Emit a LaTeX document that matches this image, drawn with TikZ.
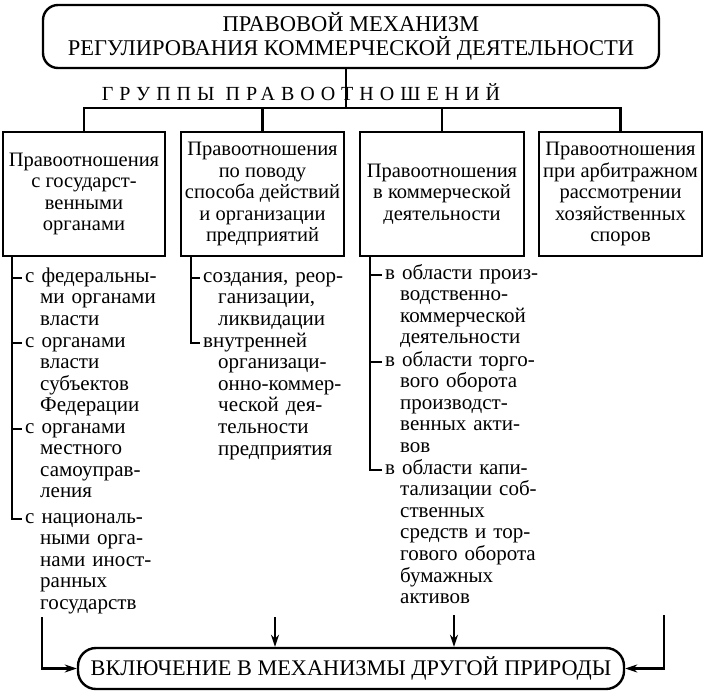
\documentclass[tikz,border=0pt]{standalone}
\usepackage{fontspec}
\setmainfont{Liberation Serif}
\usetikzlibrary{arrows.meta}
\newcommand{\boxtext}{\fontsize{20.5}{21.5}\selectfont}
\newcommand{\listtext}{\fontsize{21}{21.6}\selectfont}
\newcommand{\captext}{\fontsize{22.5}{24}\selectfont}
\newcommand{\hng}{\noindent\hangindent=15pt\hangafter=1\relax}
\newcommand{\hngend}{\par}
\begin{document}
\begin{tikzpicture}[x=1pt,y=-1pt,
    ln/.style={line width=2.4pt},
    arr/.style={line width=2.4pt,-{Stealth[length=12pt,width=8pt]}},
    grpbox/.style={draw,line width=2.4pt,minimum height=124pt,align=center,inner sep=1pt,font=\boxtext},
    itm/.style={anchor=base west,inner xsep=3pt,inner ysep=0pt,text width=190pt,align=left,font=\listtext,
        execute at begin node=\hng,execute at end node=\hngend}]
    \useasboundingbox (0,0) rectangle (704,696);
    % title and groups
    \node[draw,ln,rounded corners=15pt,minimum width=616pt,minimum height=63pt,align=center,font=\captext]
        (top) at (351,36.5) {ПРАВОВОЙ МЕХАНИЗМ\\РЕГУЛИРОВАНИЯ КОММЕРЧЕСКОЙ ДЕЯТЕЛЬНОСТИ};
    \node[font=\fontsize{20}{22}\selectfont\addfontfeature{LetterSpace=30}] (grp) at (301,92) {ГРУППЫ ПРАВООТНОШЕНИЙ};
    \node[grpbox,minimum width=162pt] (b1) at (84,194) {Правоотношения\\с государст-\\венными\\органами};
    \node[grpbox,minimum width=163pt] (b2) at (262.5,194) {Правоотношения\\по поводу\\способа действий\\и организации\\предприятий};
    \node[grpbox,minimum width=164pt] (b3) at (442,194) {Правоотношения\\в коммерческой\\деятельности};
    \node[grpbox,minimum width=163pt] (b4) at (620.5,194) {Правоотношения\\при арбитражном\\рассмотрении\\хозяйственных\\споров};
    \coordinate (bar) at (346,108);
    \draw[ln] (bar |- top.south) -- (bar);
    \draw[ln] (b1.north) |- (b4.north |- bar) -- (b4.north);
    \draw[ln] (b2.north) -- (b2.north |- bar);
    \draw[ln] (b3.north) -- (b3.north |- bar);
    % lists
    \node[itm] (i11) at (22,282) {с федеральны-\newline ми органами\newline власти};
    \node[itm] (i12) at (22,347) {с органами\newline власти\newline субъектов\newline Федерации};
    \node[itm] (i13) at (22,433) {с органами\newline местного\newline самоуправ-\newline ления};
    \node[itm] (i14) at (22,523) {с националь-\newline ными орга-\newline нами иност-\newline ранных\newline государств};
    \node[itm] (i21) at (200,282) {создания, реор-\newline ганизации,\newline ликвидации};
    \node[itm] (i22) at (200,347) {внутренней\newline организаци-\newline онно-коммер-\newline ческой дея-\newline тельности\newline предприятия};
    \node[itm] (i31) at (382,279) {в области произ-\newline водственно-\newline коммерческой\newline деятельности};
    \node[itm] (i32) at (382,366) {в области торго-\newline вого оборота\newline производст-\newline венных акти-\newline вов};
    \node[itm] (i33) at (382,474) {в области капи-\newline тализации соб-\newline ственных\newline средств и тор-\newline гового оборота\newline бумажных\newline активов};
    \coordinate (s1) at ([xshift=10pt]b1.south west);
    \coordinate (s2) at ([xshift=11pt]b2.south west);
    \coordinate (s3) at ([xshift=11pt]b3.south west);
    \foreach \n in {i11,i12,i13,i14,i21,i22,i31,i32,i33}
        \coordinate (t\n) at ([yshift=4pt]\n.base west);
    \draw[ln] (s1) |- (ti14);
    \draw[ln] (s2) |- (ti22);
    \draw[ln] (s3) |- (ti33);
    \foreach \n/\s in {i11/s1,i12/s1,i13/s1,i21/s2,i31/s3,i32/s3}
        \draw[ln] (t\n -| \s) -- (t\n);
    % result
    \node[draw,ln,rounded corners=18pt,minimum width=546pt,minimum height=41pt,font=\fontsize{22.3}{24}\selectfont]
        (incl) at (351,668.5) {ВКЛЮЧЕНИЕ В МЕХАНИЗМЫ ДРУГОЙ ПРИРОДЫ};
    \coordinate (c1) at (42,617);
    \coordinate (c2) at (275,617);
    \coordinate (c3) at (454,615);
    \coordinate (c4) at (664,615);
    \draw[arr] (c1) |- (incl.west);
    \draw[arr] (c2) -- (c2 |- incl.north);
    \draw[arr] (c3) -- (c3 |- incl.north);
    \draw[arr] (c4) |- (incl.east);
\end{tikzpicture}
\end{document}
